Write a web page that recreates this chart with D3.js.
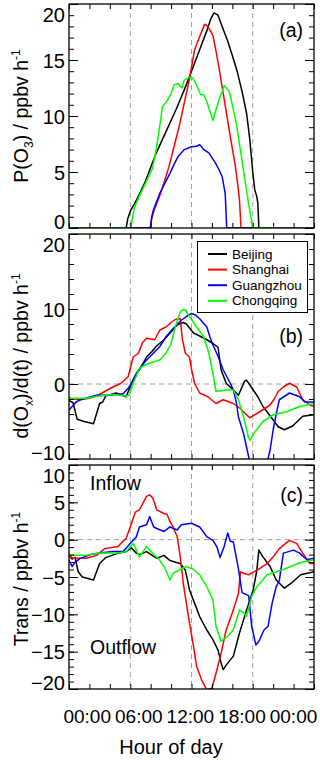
<!DOCTYPE html>
<html><head><meta charset="utf-8">
<script src="https://cdn.jsdelivr.net/npm/d3@7"></script>
<style>
body{margin:0;background:#fff}
text{font-family:"Liberation Sans",Arial,Helvetica,sans-serif;fill:#000}
</style>
</head><body>
<svg id="chart" width="320" height="760"></svg>
<script>
// ---------------- data ----------------
const cities = ["Beijing","Shanghai","Guangzhou","Chongqing"];
const cityColors = ["#000000","#ff0000","#0000ff","#00ff00"];
const xTickLabels = ["00:00","06:00","12:00","18:00","00:00"];
const xLabelHours = [0,6,12,18,24];

// (a) P(O3), [hour, ppbv/h]
const pO3_Beijing = [[0,0],[5.6,0],[5.75,0.8],[6.0,1.5],[6.5,2.3],[7.0,3.2],[7.5,4.2],[8.0,5.4],[8.5,6.6],[9.0,7.6],[9.5,8.6],[10,9.6],[10.5,10.6],[11,11.7],[11.5,12.8],[12,14.0],[12.5,15.2],[13,16.4],[13.5,17.6],[13.9,18.7],[14.2,19.2],[14.6,19.0],[15.0,18.0],[15.5,16.8],[16.0,15.4],[16.5,13.9],[17.0,12.0],[17.4,10.2],[17.7,8.0],[18.0,5.0],[18.2,3.4],[18.4,2.8],[18.5,2.2],[18.6,0],[24,0]];
const pO3_Shanghai = [[0,0],[7.95,0],[8.1,0.8],[8.3,1.5],[8.9,2.9],[9.4,4.3],[9.8,5.5],[10.3,7.3],[10.8,9.1],[11.3,11.2],[11.8,13.3],[12.3,15.9],[12.8,17.1],[13.3,18.2],[13.6,18.0],[14.1,17.2],[14.4,15.8],[14.7,14.3],[15.0,12.6],[15.4,10.4],[15.7,8.7],[16.0,7.1],[16.3,5.5],[16.5,4.1],[16.7,2.5],[16.85,0],[24,0]];
const pO3_Guangzhou = [[0,0],[7.98,0],[8.1,1.0],[8.3,1.7],[8.9,3.1],[9.4,4.0],[9.9,4.9],[10.3,5.7],[10.7,6.4],[11.3,7.0],[12.0,7.25],[12.5,7.3],[12.8,7.45],[13.2,7.0],[13.7,6.7],[14.35,5.8],[14.7,5.2],[15.0,4.6],[15.3,3.1],[15.45,0],[24,0]];
const pO3_Chongqing = [[0,0],[6.05,0],[6.4,1.8],[6.87,2.8],[7.3,3.6],[7.7,4.4],[8.17,5.3],[8.5,6.8],[8.82,8.7],[9.15,10.8],[9.64,11.4],[10.0,12.0],[10.29,12.8],[10.68,12.9],[11.05,12.5],[11.28,13.2],[11.77,13.45],[12.1,13.4],[12.42,12.9],[12.9,11.9],[13.2,11.9],[13.5,11.3],[14.1,9.6],[14.6,11.2],[15.2,12.7],[15.7,12.2],[16.0,11.0],[16.4,9.3],[17.0,5.7],[17.5,2.7],[18.0,0],[24,0]];

// (b) d(Ox)/d(t)
const dOx_Beijing = [[0,-2.2],[0.4,-2.5],[0.8,-4.7],[1.5,-5.0],[2.4,-5.3],[2.8,-3.5],[3.0,-2.6],[3.3,-2.4],[3.6,-1.6],[4.6,-1.2],[5.2,-1.5],[5.6,-1.7],[6.1,0.0],[6.6,1.4],[7.1,2.4],[7.6,3.6],[8.1,4.3],[8.6,5.1],[9.3,5.9],[9.9,6.8],[10.3,7.4],[10.6,7.9],[11.2,8.2],[11.5,8.0],[12.2,6.8],[12.8,6.4],[13.5,5.9],[14.1,5.4],[14.6,4.9],[14.9,1.9],[15.4,0.1],[16.1,-0.8],[16.6,-1.5],[17.2,0.4],[17.4,0.5],[18.05,-0.8],[18.5,-1.7],[19.0,-3.0],[20.0,-4.8],[20.5,-5.7],[21.1,-6.1],[21.9,-5.6],[22.9,-4.3],[24,-4.1]];
const dOx_Shanghai = [[0,-1.9],[1.1,-2.1],[2.0,-1.9],[2.7,-1.6],[3.5,-1.0],[4.3,-0.4],[5.1,0.1],[5.8,1.0],[6.1,2.6],[6.3,3.6],[6.8,4.1],[7.2,5.5],[7.6,6.1],[8.4,5.9],[8.9,7.2],[9.5,7.6],[10.0,8.2],[10.4,8.6],[10.9,8.7],[11.1,6.0],[11.4,4.1],[11.8,3.6],[12.0,2.0],[12.3,0.1],[12.8,-1.2],[13.6,-1.7],[14.4,-2.6],[15.1,-2.1],[16.1,-2.6],[16.8,-3.3],[17.4,-4.1],[17.7,-4.5],[18.7,-3.7],[19.7,-2.8],[20.1,-2.0],[20.5,-1.0],[21.0,-0.4],[21.6,0.1],[22.3,-0.4],[22.9,-2.1],[23.6,-2.8],[24,-3.0]];
const dOx_Guangzhou = [[0,-3.5],[0.3,-3.0],[0.7,-2.4],[1.1,-2.1],[2.7,-1.5],[4.0,-1.5],[5.3,-1.3],[5.9,-0.4],[6.4,0.9],[6.9,1.9],[7.4,2.9],[7.9,3.6],[8.4,4.3],[8.9,5.0],[9.5,6.3],[10.2,7.4],[11.0,8.5],[11.5,9.0],[12.0,9.4],[12.4,9.2],[12.8,8.7],[13.5,7.6],[13.8,6.3],[14.1,5.2],[14.5,4.0],[14.8,3.0],[15.1,1.9],[15.8,0.1],[16.1,-0.8],[16.4,-2.5],[16.6,-4.4],[17.1,-6.6],[17.6,-9.7],[17.8,-12],[18.3,-13],[19.0,-12.5],[19.4,-10.5],[19.7,-8.8],[20.0,-6.1],[20.3,-4.0],[20.6,-2.1],[21.6,-1.2],[22.6,-1.7],[23.1,-2.4],[24,-2.4]];
const dOx_Chongqing = [[0,-1.9],[1.7,-1.9],[3.0,-1.6],[4.3,-1.4],[5.0,-1.5],[5.6,-1.6],[5.9,-1.5],[6.3,0.1],[6.9,2.1],[7.4,2.5],[7.9,2.8],[8.9,3.2],[9.5,4.1],[10.0,5.4],[10.2,6.5],[10.4,7.6],[10.7,8.8],[10.9,9.6],[11.1,9.9],[11.4,9.9],[11.8,9.0],[12.5,7.6],[13.2,6.3],[13.7,4.1],[14.1,1.4],[14.4,-1.0],[15.4,-0.8],[16.1,-0.8],[16.6,-2.1],[17.1,-4.4],[17.6,-7.2],[17.75,-7.5],[18.1,-6.6],[19.0,-5.0],[20.0,-4.1],[21.3,-3.7],[22.6,-3.0],[24,-2.6]];

// (c) Trans
const trans_Beijing = [[0,-2.1],[0.3,-2.6],[0.6,-2.4],[0.9,-4.3],[1.3,-5.0],[2.4,-5.4],[3.0,-3.2],[3.6,-2.4],[4.6,-1.9],[5.6,-1.6],[6.1,-1.1],[6.6,-1.8],[6.9,-2.0],[7.6,-1.6],[8.6,-2.5],[9.3,-2.1],[9.9,-2.8],[10.6,-3.1],[10.9,-3.2],[11.4,-4.1],[11.8,-6.7],[12.3,-8.5],[12.8,-10.3],[13.5,-12.1],[14.1,-13.4],[14.6,-14.8],[14.9,-16.5],[15.1,-17.4],[15.4,-16.8],[16.1,-15.6],[16.7,-12.5],[17.4,-9.4],[18.05,-6.7],[18.4,-4.1],[18.6,-1.4],[19.0,-2.3],[19.7,-3.6],[20.3,-5.4],[21.1,-6.5],[21.8,-5.8],[22.7,-4.7],[24,-4.3]];
const trans_Shanghai = [[0,-2.1],[0.4,-2.5],[1.7,-2.5],[2.7,-2.1],[3.5,-1.2],[4.8,-0.9],[5.6,0.2],[6.0,1.7],[6.5,3.7],[6.9,4.0],[7.6,5.8],[7.9,6.0],[8.2,5.6],[8.6,4.0],[9.3,3.5],[9.6,3.4],[9.9,2.4],[10.2,1.7],[10.6,0.4],[10.9,-2.3],[11.2,-5.9],[11.7,-10.3],[12.2,-14.3],[12.5,-17.0],[13.0,-18.8],[13.5,-20.1],[14.0,-19.9],[14.4,-17.9],[14.9,-15.2],[15.4,-12.1],[16.1,-9.4],[16.6,-7.2],[16.8,-4.3],[17.1,-4.5],[17.6,-4.7],[18.4,-4.1],[19.4,-3.2],[20.0,-2.3],[20.6,-1.2],[21.6,-0.1],[22.3,-0.5],[22.9,-1.8],[23.6,-3.2],[24,-3.2]];
const trans_Guangzhou = [[0,-2.7],[0.3,-3.6],[0.6,-3.0],[1.1,-2.5],[2.1,-2.0],[3.0,-1.8],[4.3,-1.6],[5.3,-1.6],[6.0,-0.5],[6.6,0.4],[6.9,1.7],[7.6,2.0],[7.9,3.1],[8.3,1.7],[8.6,1.5],[9.3,1.1],[9.9,1.7],[10.6,1.3],[11.0,2.0],[12.0,2.2],[12.8,1.7],[13.5,0.4],[14.1,-0.1],[14.5,-1.0],[14.8,-2.4],[15.2,-0.9],[15.55,0.9],[15.8,-0.2],[16.1,-0.3],[16.6,-3.9],[16.95,-7.1],[17.6,-7.5],[17.9,-11.6],[18.3,-14.1],[18.6,-13.6],[19.1,-12.1],[19.5,-11.6],[19.9,-8.5],[20.3,-6.3],[20.6,-5.5],[21.0,-1.8],[22.0,-1.4],[22.6,-1.8],[23.3,-2.7],[24,-2.5]];
const trans_Chongqing = [[0,-2.1],[1.7,-2.1],[3.0,-1.8],[4.8,-1.8],[5.6,-1.6],[6.3,-0.5],[6.9,-2.3],[7.6,-0.9],[8.3,-2.0],[8.8,-2.6],[9.3,-3.6],[9.9,-5.4],[10.2,-4.5],[10.9,-4.0],[11.5,-3.6],[12.2,-4.0],[12.8,-4.7],[13.5,-6.3],[14.1,-8.1],[14.4,-11.6],[14.9,-13.6],[15.5,-13.0],[16.1,-12.1],[16.7,-9.4],[17.1,-9.8],[17.4,-10.3],[17.9,-7.6],[18.4,-6.3],[19.4,-4.7],[21.0,-4.0],[22.6,-3.1],[24,-2.7]];

// ---------------- layout ----------------
const svg = d3.select("#chart");
const L = 69, R = 314;
const x = d3.scaleLinear().domain([0,24]).range([L,R]);

const panels = [
  {id:"a", top:4, bottom:228, domain:[0,20], major:d3.range(0,21,5), minor:d3.range(0,21,1),
   series:[pO3_Beijing,pO3_Shanghai,pO3_Guangzhou,pO3_Chongqing], zero:false,
   title:[["P(O",0],["3",1],[") / ppbv h",0],["-1",2]], titleY:116, tag:"(a)", tagY:30},
  {id:"b", top:234, bottom:459, domain:[-10,20], major:[-10,0,10,20], minor:d3.range(-10,21,2),
   series:[dOx_Beijing,dOx_Shanghai,dOx_Guangzhou,dOx_Chongqing], zero:true,
   title:[["d(O",0],["x",1],[")/d(t) / ppbv h",0],["-1",2]], titleY:356, tag:"(b)", tagY:336},
  {id:"c", top:465, bottom:689, domain:[-20,10], major:d3.range(-20,11,5), minor:d3.range(-20,11,1),
   series:[trans_Beijing,trans_Shanghai,trans_Guangzhou,trans_Chongqing], zero:true,
   title:[["Trans / ppbv h",0],["-1",2]], titleY:579, tag:"(c)", tagY:495}
];

const xTicks = d3.range(0,25,2);

panels.forEach(p => {
  const y = d3.scaleLinear().domain(p.domain).range([p.bottom,p.top]);
  const g = svg.append("g");
  const clipId = "clip-"+p.id;
  svg.append("clipPath").attr("id",clipId).append("rect")
    .attr("x",L).attr("y",p.top).attr("width",R-L).attr("height",p.bottom-p.top);

  [6,12,18].forEach(h => g.append("line")
    .attr("x1",x(h)).attr("x2",x(h)).attr("y1",p.top).attr("y2",p.bottom)
    .attr("stroke","#a0a0a0").attr("stroke-width",1).attr("stroke-dasharray","5,4"));
  if (p.zero) g.append("line").attr("x1",L).attr("x2",R).attr("y1",y(0)).attr("y2",y(0))
    .attr("stroke","#a0a0a0").attr("stroke-width",1).attr("stroke-dasharray","5,4");

  const line = d3.line().x(d=>x(d[0])).y(d=>y(d[1]));
  const lg = g.append("g").attr("clip-path",`url(#${clipId})`);
  p.series.forEach((s,i) => lg.append("path").attr("d",line(s)).attr("fill","none")
    .attr("stroke",cityColors[i]).attr("stroke-width",1.5).attr("stroke-linejoin","round"));

  const strip = sel => { sel.select(".domain").remove(); sel.selectAll("line").attr("stroke","#000").attr("stroke-width",1); };
  g.append("g").attr("transform",`translate(${L},0)`)
    .call(d3.axisLeft(y).tickValues(p.minor).tickSize(-5).tickFormat("")).call(strip);
  g.append("g").attr("transform",`translate(${R},0)`)
    .call(d3.axisRight(y).tickValues(p.minor).tickSize(-5).tickFormat("")).call(strip);
  g.append("g").attr("transform",`translate(${R},0)`)
    .call(d3.axisRight(y).tickValues(p.major).tickSize(-9).tickFormat("")).call(strip);
  const ya = g.append("g").attr("transform",`translate(${L},0)`)
    .call(d3.axisLeft(y).tickValues(p.major).tickSize(-9).tickPadding(4).tickFormat(d3.format("d"))).call(strip);
  ya.selectAll("text").attr("font-size",20).attr("font-family",'"Liberation Sans",Arial,sans-serif')
    .attr("dy",null).attr("dominant-baseline","central")
    .attr("y", d => d===p.domain[1] ? 10 : (d===p.domain[0] ? -7 : 0));
  g.append("g").attr("transform",`translate(0,${p.top})`)
    .call(d3.axisTop(x).tickValues(xTicks).tickSize(-5).tickFormat("")).call(strip);
  g.append("g").attr("transform",`translate(0,${p.bottom})`)
    .call(d3.axisBottom(x).tickValues(xTicks).tickSize(-5).tickFormat("")).call(strip);

  g.append("rect").attr("x",L).attr("y",p.top).attr("width",R-L).attr("height",p.bottom-p.top)
    .attr("fill","none").attr("stroke","#000").attr("stroke-width",1.3);

  const t = g.append("text").attr("transform",`translate(28,${p.titleY}) rotate(-90)`)
    .attr("text-anchor","middle").attr("font-size",19.5);
  let shift = 0;
  p.title.forEach(([s,k]) => {
    const ts = t.append("tspan").text(s);
    const target = k===1 ? 5 : (k===2 ? -8 : 0);
    ts.attr("dy", target - shift); shift = target;
    if (k) ts.attr("font-size",12);
  });

  g.append("text").attr("x",303).attr("y",p.tagY).attr("text-anchor","end")
    .attr("dominant-baseline","central").attr("font-size",19.5).text(p.tag);
});

const lgd = svg.append("g");
lgd.append("rect").attr("x",197.5).attr("y",241.5).attr("width",110).attr("height",71)
  .attr("fill","#fff").attr("stroke","#000").attr("stroke-width",1);
cities.forEach((c,i) => {
  const yy = 254 + i*15.6;
  lgd.append("line").attr("x1",208).attr("x2",227).attr("y1",yy).attr("y2",yy)
    .attr("stroke",cityColors[i]).attr("stroke-width",2);
  lgd.append("text").attr("x",232).attr("y",yy).attr("dominant-baseline","central")
    .attr("font-size",13.5).text(c);
});

svg.append("text").attr("x",90).attr("y",483).attr("dominant-baseline","central").attr("font-size",19.5).text("Inflow");
svg.append("text").attr("x",90).attr("y",647).attr("dominant-baseline","central").attr("font-size",19.5).text("Outflow");

const xl = d3.scaleLinear().domain([0,24]).range([86.7,293]);
const xla = svg.append("g").attr("transform","translate(0,709)")
  .call(d3.axisBottom(xl).tickValues(xLabelHours).tickSize(0).tickPadding(0)
    .tickFormat((d,i)=>xTickLabels[i]));
xla.select(".domain").remove();
xla.selectAll("text").attr("font-size",19).attr("font-family",'"Liberation Sans",Arial,sans-serif');

svg.append("text").attr("x",171).attr("y",754).attr("text-anchor","middle").attr("font-size",20).text("Hour of day");
</script>
</body></html>
